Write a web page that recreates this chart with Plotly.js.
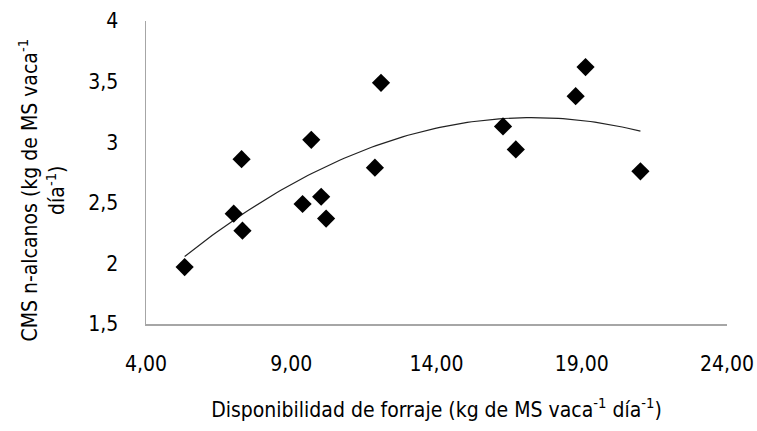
<!DOCTYPE html>
<html>
<head>
<meta charset="utf-8">
<script src="https://cdn.plot.ly/plotly-3.0.1.min.js"></script>
<style>html,body{margin:0;padding:0;background:#fff;}#chart{width:757px;height:431px;}</style>
</head>
<body>
<div id="chart"></div>
<script>
// Forage availability (kg DM cow-1 day-1)
const forraje = [5.33, 7.02, 7.29, 7.32, 9.39, 9.69, 10.03, 10.20, 11.88, 12.09, 16.29, 16.73, 18.79, 19.13, 21.02];
// DM intake by n-alkanes (kg DM cow-1 day-1)
const cms = [1.97, 2.41, 2.86, 2.27, 2.49, 3.02, 2.55, 2.37, 2.79, 3.49, 3.13, 2.94, 3.38, 3.62, 2.76];

const xTickVals = [4, 9, 14, 19, 24];
const xTickText = ['4,00', '9,00', '14,00', '19,00', '24,00'];
const yTickVals = [1.5, 2, 2.5, 3, 3.5, 4];
const yTickText = ['1,5', '2', '2,5', '3', '3,5', '4'];

// Polynomial (order 2) trendline fitted to the data, as in the original spreadsheet chart
function polyfit2(xs, ys) {
  let s = [0,0,0,0,0], t = [0,0,0];
  for (let i = 0; i < xs.length; i++) {
    let p = 1;
    for (let k = 0; k < 5; k++) { s[k] += p; if (k < 3) t[k] += p * ys[i]; p *= xs[i]; }
  }
  const A = [[s[0],s[1],s[2],t[0]],[s[1],s[2],s[3],t[1]],[s[2],s[3],s[4],t[2]]];
  for (let c = 0; c < 3; c++) {
    for (let r = c + 1; r < 3; r++) {
      const f = A[r][c] / A[c][c];
      for (let k = c; k < 4; k++) A[r][k] -= f * A[c][k];
    }
  }
  const b = [0,0,0];
  for (let r = 2; r >= 0; r--) {
    let v = A[r][3];
    for (let k = r + 1; k < 3; k++) v -= A[r][k] * b[k];
    b[r] = v / A[r][r];
  }
  return b;
}
const coef = polyfit2(forraje, cms);
const xMin = Math.min(...forraje), xMax = Math.max(...forraje);
const trendX = [], trendY = [];
for (let i = 0; i <= 100; i++) {
  const x = xMin + (xMax - xMin) * i / 100;
  trendX.push(x);
  trendY.push(coef[0] + coef[1] * x + coef[2] * x * x);
}

const FONT = '"Liberation Sans Narrow", "Arial Narrow", "DejaVu Sans Condensed", sans-serif';

const data = [
  {x: trendX, y: trendY, mode: 'lines', type: 'scatter', line: {color: '#222', width: 1.2}, hoverinfo: 'skip'},
  {x: forraje, y: cms, mode: 'markers', type: 'scatter',
   marker: {symbol: 'diamond', size: 14, color: '#000'}}
];

const layout = {
  width: 757, height: 431,
  margin: {l: 145.5, r: 30, t: 21, b: 107},
  paper_bgcolor: '#fff', plot_bgcolor: '#fff',
  showlegend: false,
  font: {family: FONT, size: 21, color: '#000'},
  xaxis: {
    range: [4, 24], tickvals: xTickVals, ticktext: xTickText,
    showgrid: false, zeroline: false, showline: true, linecolor: '#a6a6a6', linewidth: 1.5,
    ticks: '', ticklabelstandoff: 20, tickfont: {family: FONT, size: 21},
    title: {text: 'Disponibilidad de forraje (kg de MS vaca<sup>-1</sup> día<sup>-1</sup>)',
            font: {family: FONT, size: 21}, standoff: 27}
  },
  yaxis: {
    range: [1.5, 4], tickvals: yTickVals, ticktext: yTickText,
    showgrid: false, zeroline: false, showline: true, linecolor: '#a6a6a6', linewidth: 1.5,
    ticks: '', ticklabelstandoff: 22, tickfont: {family: FONT, size: 21}
  },
  annotations: [{
    text: 'CMS n-alcanos (kg de MS vaca<sup>-1</sup><br>día<sup>-1</sup>)',
    textangle: -90, xref: 'paper', yref: 'paper', x: -0.18, y: 0.442,
    xanchor: 'center', yanchor: 'middle', showarrow: false,
    font: {family: FONT, size: 21, color: '#000'}
  }]
};

Plotly.newPlot('chart', data, layout, {displayModeBar: false, staticPlot: true});
</script>
</body>
</html>
